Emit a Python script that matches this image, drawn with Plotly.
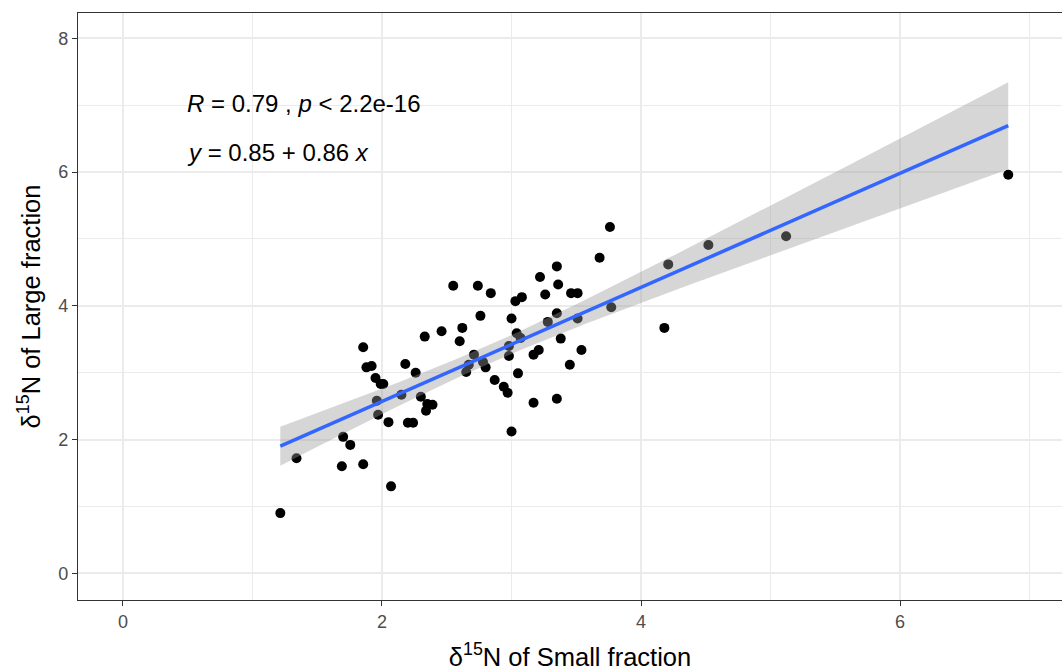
import numpy as np
import plotly.graph_objects as go

small = [1.215, 1.34, 1.70, 1.755, 1.69, 1.855, 1.855, 1.88, 1.92, 1.95, 1.96, 1.97, 1.99, 2.01,
         2.07, 2.05, 2.15, 2.18, 2.20, 2.24, 2.26, 2.30, 2.33, 2.34, 2.35, 2.39, 2.46, 2.55,
         2.60, 2.62, 2.65, 2.67, 2.71, 2.74, 2.76, 2.78, 2.80, 2.84, 2.87, 2.94, 2.97, 2.98,
         2.98, 3.00, 3.00, 3.03, 3.04, 3.05, 3.08, 3.07, 3.17, 3.17, 3.21, 3.22, 3.26, 3.28,
         3.35, 3.35, 3.36, 3.38, 3.35, 3.45, 3.46, 3.51, 3.51, 3.54, 3.68, 3.76, 3.77, 4.18,
         4.21, 4.52, 5.12, 6.835]
large = [0.90, 1.72, 2.04, 1.92, 1.60, 1.63, 3.38, 3.08, 3.10, 2.92, 2.58, 2.37, 2.83, 2.83,
         1.30, 2.26, 2.67, 3.13, 2.25, 2.25, 3.00, 2.64, 3.54, 2.43, 2.53, 2.52, 3.62, 4.30,
         3.47, 3.67, 3.01, 3.12, 3.27, 4.30, 3.85, 3.16, 3.08, 4.19, 2.89, 2.79, 2.70, 3.25,
         3.40, 3.81, 2.12, 4.07, 3.59, 2.99, 4.13, 3.52, 2.55, 3.27, 3.34, 4.43, 4.17, 3.76,
         3.89, 4.59, 4.32, 3.51, 2.61, 3.12, 4.19, 4.19, 3.81, 3.34, 4.72, 5.18, 3.98, 3.67,
         4.62, 4.91, 5.04, 5.96]

x_ticks = [0, 2, 4, 6]
y_ticks = [0, 2, 4, 6, 8]
stat_label = "<i>R</i> = 0.79 , <i>p</i> &lt; 2.2e-16"
eq_label = "<i>y</i> = 0.85 + 0.86 <i>x</i>"

x = np.array(small)
y = np.array(large)
n = len(x)
b1, b0 = np.polyfit(x, y, 1)
resid = y - (b0 + b1 * x)
s = np.sqrt(np.sum(resid ** 2) / (n - 2))
xg = np.linspace(x.min(), x.max(), 80)
yg = b0 + b1 * xg
tcrit = 1.993
se = s * np.sqrt(1 / n + (xg - x.mean()) ** 2 / np.sum((x - x.mean()) ** 2))
upper = yg + tcrit * se
lower = yg - tcrit * se

fig = go.Figure()
fig.add_trace(go.Scatter(x=x, y=y, mode="markers",
                         marker=dict(color="black", size=10, line=dict(width=0)),
                         showlegend=False, hoverinfo="skip"))
fig.add_trace(go.Scatter(x=np.concatenate([xg, xg[::-1]]),
                         y=np.concatenate([upper, lower[::-1]]),
                         fill="toself", fillcolor="rgba(153,153,153,0.4)",
                         line=dict(width=0), mode="lines", showlegend=False, hoverinfo="skip"))
fig.add_trace(go.Scatter(x=xg, y=yg, mode="lines", line=dict(color="#3366FF", width=3.5),
                         showlegend=False, hoverinfo="skip"))

fig.add_annotation(x=0.48, y=7.02, xref="x", yref="y", text=stat_label, showarrow=False,
                   xanchor="left", yanchor="middle",
                   font=dict(family="Liberation Sans, Arial", size=24, color="black"))
fig.add_annotation(x=0.48, y=6.3, xref="x", yref="y", text=eq_label, showarrow=False,
                   xanchor="left", yanchor="middle",
                   font=dict(family="Liberation Sans, Arial", size=24, color="black"))

grid = "#EBEBEB"
axis_common = dict(showline=True, linecolor="#333333", linewidth=1.3,
                   ticks="outside", ticklen=5, tickwidth=1.3, tickcolor="#333333",
                   showgrid=True, gridcolor=grid, gridwidth=1.6, zeroline=False,
                   tickfont=dict(family="Liberation Sans, Arial", size=18, color="#4D4D4D"),
                   minor=dict(dtick=1, showgrid=True, gridcolor=grid, gridwidth=0.8, ticks=""))

fig.update_xaxes(range=[-0.347, 7.25], tickvals=x_ticks, mirror=True,
                 title=dict(text="δ<sup>15</sup>N of Small fraction", standoff=17,
                            font=dict(family="Liberation Sans, Arial", size=25.5, color="black")),
                 **axis_common)
fig.update_yaxes(range=[-0.4, 8.38], tickvals=y_ticks, mirror=False,
                 title=dict(text="δ<sup>15</sup>N of Large fraction", standoff=10,
                            font=dict(family="Liberation Sans, Arial", size=25.5, color="black")),
                 **axis_common)

fig.update_layout(width=1062, height=671, plot_bgcolor="white", paper_bgcolor="white",
                  margin=dict(l=78, r=0, t=13, b=71),
                  font=dict(family="Liberation Sans, Arial"))

fig.write_html("out.html")
